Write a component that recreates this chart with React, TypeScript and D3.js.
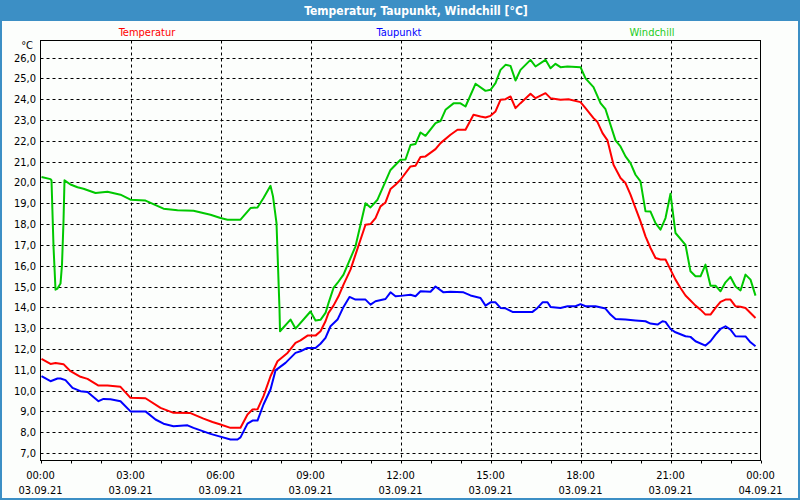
import React from "react";
import * as d3 from "d3";

// time in minutes since 03.09.21 00:00
const tempTimes = [2,20,30,46,60,80,94,116,134,160,180,210,240,266,300,326,344,360,380,400,414,424,434,446,460,474,494,510,520,534,550,560,570,576,586,596,606,620,630,650,660,670,680,690,700,710,720,740,750,760,770,790,800,820,834,850,866,880,890,900,910,920,930,940,950,960,980,990,1010,1020,1040,1056,1080,1090,1106,1114,1124,1134,1146,1160,1170,1180,1190,1200,1210,1220,1230,1240,1250,1260,1270,1280,1290,1300,1310,1320,1330,1340,1350,1360,1370,1380,1390,1400,1410,1420,1430];
const tempValues = [11.52,11.28,11.32,11.27,10.93,10.66,10.56,10.24,10.24,10.18,9.65,9.63,9.17,8.93,8.92,8.65,8.49,8.37,8.21,8.21,8.85,9.09,9.1,9.73,10.69,11.41,11.81,12.29,12.41,12.64,12.64,12.85,13.33,13.73,14.08,14.53,15.09,15.81,16.53,17.97,18.0,18.29,18.85,19.04,19.68,19.89,20.13,20.77,20.8,21.22,21.25,21.6,21.89,22.29,22.53,22.53,23.25,23.17,23.12,23.2,23.41,23.97,24.0,24.13,23.57,23.81,24.26,24.05,24.29,24.05,23.97,24.0,23.86,23.57,23.09,22.9,22.37,22.02,20.85,20.21,19.97,19.41,18.77,18.13,17.41,16.85,16.37,16.3,16.3,15.81,15.33,14.93,14.57,14.33,14.08,13.89,13.65,13.65,13.97,14.26,14.37,14.37,14.05,14.03,13.97,13.73,13.49];

const dewTimes = [2,20,34,40,50,64,80,94,116,126,140,160,180,210,230,246,266,294,306,340,356,380,394,400,414,424,434,446,460,470,490,500,510,520,534,550,560,570,580,594,606,618,630,650,660,670,690,700,710,720,740,750,760,780,790,806,820,846,860,880,890,900,910,920,930,944,984,994,1004,1014,1020,1040,1054,1070,1080,1090,1110,1130,1140,1150,1170,1190,1210,1220,1234,1244,1250,1260,1270,1290,1300,1310,1330,1340,1350,1360,1370,1380,1390,1410,1420,1430];
const dewValues = [10.69,10.45,10.58,10.58,10.5,10.13,9.97,9.93,9.49,9.6,9.58,9.49,9.0,9.0,8.61,8.41,8.29,8.33,8.21,7.92,7.81,7.65,7.65,7.75,8.41,8.56,8.56,9.33,10.05,10.97,11.33,11.57,11.81,11.89,12.05,12.05,12.25,12.53,13.09,13.41,14.02,14.5,14.37,14.37,14.13,14.29,14.4,14.72,14.53,14.55,14.6,14.53,14.77,14.75,15.0,14.72,14.75,14.72,14.57,14.45,14.08,14.24,14.24,13.97,13.95,13.78,13.78,13.97,14.24,14.24,14.02,13.97,14.05,14.05,14.15,14.05,14.05,13.94,13.65,13.44,13.41,13.37,13.33,13.22,13.17,13.33,13.3,12.96,12.8,12.61,12.58,12.37,12.16,12.37,12.69,12.96,13.09,12.93,12.61,12.6,12.32,12.13];

const chillTimes = [2,20,22,26,28,30,34,40,43,46,48,60,74,86,110,134,160,180,210,246,274,306,340,360,374,400,420,434,446,460,465,472,475,478,479,500,510,540,550,560,570,576,586,594,606,630,650,660,674,700,720,730,740,750,760,770,790,800,810,826,840,850,870,890,900,910,920,930,940,950,960,980,990,1010,1020,1030,1040,1054,1080,1090,1106,1120,1130,1150,1160,1170,1180,1190,1200,1210,1220,1230,1240,1250,1260,1270,1290,1300,1310,1320,1330,1340,1350,1360,1370,1380,1390,1400,1410,1420,1430];
const chillValues = [20.26,20.16,20.1,16.93,15.9,14.85,14.9,15.14,16.05,18.13,20.1,19.9,19.77,19.7,19.49,19.55,19.41,19.17,19.13,18.74,18.66,18.64,18.45,18.29,18.21,18.21,18.77,18.8,19.25,19.84,19.33,18.05,15.97,13.9,12.85,13.41,12.98,13.8,13.37,13.4,13.73,14.2,14.93,15.17,15.57,16.93,19.0,18.8,19.17,20.6,21.09,21.1,21.8,21.85,22.4,22.24,22.85,22.95,23.49,23.8,23.8,23.65,24.74,24.4,24.45,24.77,25.41,25.65,25.6,24.9,25.41,25.89,25.57,25.89,25.49,25.7,25.54,25.57,25.54,25.0,24.58,23.81,23.52,22.02,21.73,21.25,20.93,20.37,20.05,18.61,18.6,18.05,17.73,18.29,19.46,17.57,17.0,15.73,15.49,15.49,16.05,15.04,15.04,14.77,15.2,15.46,15.0,14.81,15.57,15.33,14.56];

const yTicks = [7,8,9,10,11,12,13,14,15,16,17,18,19,20,21,22,23,24,25,26];
const xTickMinutes = [0,180,360,540,720,900,1080,1260,1440];
const xTickTimes = ["00:00","03:00","06:00","09:00","12:00","15:00","18:00","21:00","00:00"];
const xTickDates = ["03.09.21","03.09.21","03.09.21","03.09.21","03.09.21","03.09.21","03.09.21","03.09.21","04.09.21"];
const hourTicks = d3.range(0, 25).map((h) => h * 60);

const seriesNames = ["Temperatur", "Taupunkt", "Windchill"];
const seriesColors = ["#ff0000", "#0000ff", "#00c800"];
const legendColors = ["#ff0000", "#0000ff", "#22cc22"];

const W = 800, H = 500;
const left = 40.5, right = 760.5, top = 40.5, bottom = 460.5;
const FONT = "Tahoma, 'DejaVu Sans Condensed', 'Liberation Sans', sans-serif";

export default function App() {
  const x = d3.scaleLinear().domain([0, 1440]).range([left, right]);
  const y = d3.scaleLinear().domain([6.64, 26.82]).range([bottom, top]);
  const line = d3.line<[number, number]>().x((d) => x(d[0])).y((d) => y(d[1]));
  const series = [
    d3.zip(tempTimes, tempValues) as [number, number][],
    d3.zip(dewTimes, dewValues) as [number, number][],
    d3.zip(chillTimes, chillValues) as [number, number][],
  ];
  const legendX = [147, 399, 652];
  const titleBlue = "#3c8fc5";
  return (
    <svg width={W} height={H} style={{ position: "absolute", left: 0, top: 0, fontFamily: FONT }}>
      <rect x={0} y={0} width={W} height={H} fill={titleBlue} />
      <rect x={2} y={21} width={W - 4} height={H - 23} fill="#fcfefc" />
      <text x={416} y={14.5} textAnchor="middle" fill="#fff" fontSize={12} fontWeight="bold">
        Temperatur, Taupunkt, Windchill [°C]
      </text>
      {seriesNames.map((n, i) => (
        <text key={n} x={legendX[i]} y={35.5} textAnchor="middle" fill={legendColors[i]} fontSize={11}>
          {n}
        </text>
      ))}
      {yTicks.map((t) => (
        <line key={"gy" + t} x1={left} x2={right} y1={Math.round(y(t)) + 0.5} y2={Math.round(y(t)) + 0.5}
          stroke="#000" strokeDasharray="3,3" strokeWidth={1} />
      ))}
      {xTickMinutes.slice(1, -1).map((t) => (
        <line key={"gx" + t} x1={Math.round(x(t)) + 0.5} x2={Math.round(x(t)) + 0.5} y1={top} y2={bottom}
          stroke="#000" strokeDasharray="3,3" strokeWidth={1} />
      ))}
      <rect x={left} y={top} width={right - left} height={bottom - top} fill="none" stroke="#000" strokeWidth={1} />
      {hourTicks.map((t) => (
        <line key={"ht" + t} x1={Math.round(x(t)) + 0.5} x2={Math.round(x(t)) + 0.5} y1={bottom} y2={bottom + 3}
          stroke="#000" strokeWidth={1} />
      ))}
      <text x={33} y={49} textAnchor="end" fontSize={11} fill="#000">°C</text>
      {yTicks.map((t) => (
        <text key={"yl" + t} x={36} y={y(t) + 4} textAnchor="end" fontSize={11} fill="#000">
          {t.toFixed(1).replace(".", ",")}
        </text>
      ))}
      {xTickMinutes.map((t, i) => (
        <g key={"xl" + i}>
          <text x={x(t)} y={479} textAnchor="middle" fontSize={11} fill="#000">{xTickTimes[i]}</text>
          <text x={x(t)} y={494} textAnchor="middle" fontSize={11} fill="#000">{xTickDates[i]}</text>
        </g>
      ))}
      {series.map((s, i) => (
        <path key={"s" + i} d={line(s) || ""} fill="none" stroke={seriesColors[i]} strokeWidth={2}
          strokeLinejoin="round" />
      ))}
    </svg>
  );
}
